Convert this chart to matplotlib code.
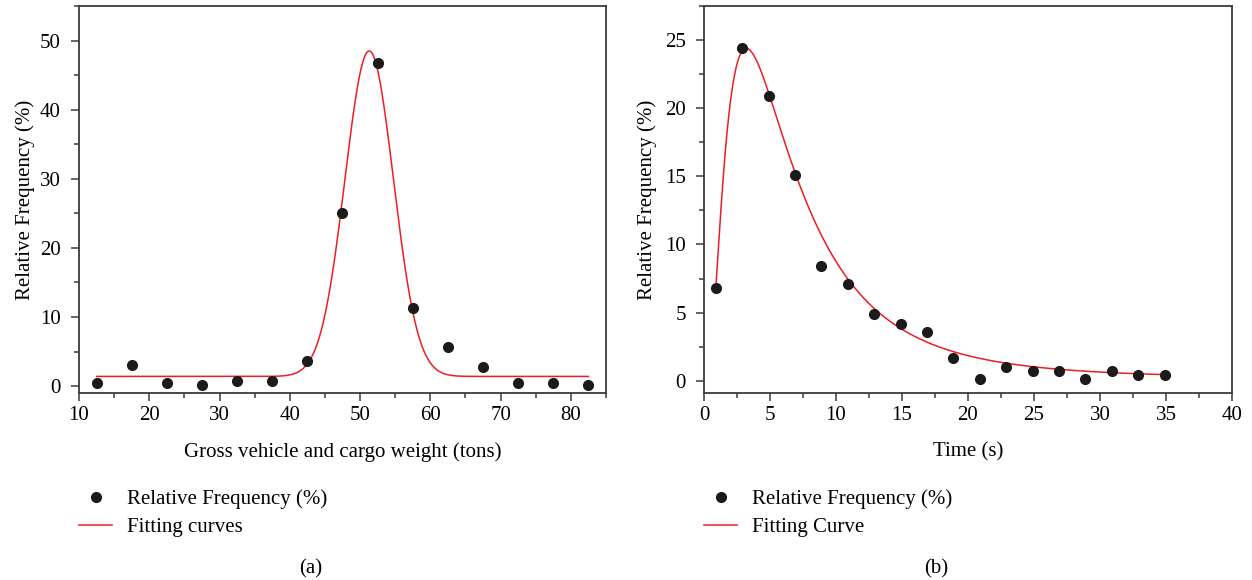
"""
Relative frequency of gross weight (a) and time (b), with fitted curves
"""
import numpy as np
import matplotlib
matplotlib.use("Agg")
import matplotlib.pyplot as plt
from matplotlib.ticker import MultipleLocator

plt.rcParams['font.family'] = ['Liberation Serif', 'DejaVu Serif']
plt.rcParams['font.size'] = 15

# (a) gross vehicle and cargo weight
weight = [12.5, 17.5, 22.5, 27.5, 32.5, 37.5, 42.5, 47.5, 52.5, 57.5,
          62.5, 67.5, 72.5, 77.5, 82.5]
weight_freq = [0.5, 3.0, 0.5, 0.2, 0.8, 0.8, 3.7, 25.0, 46.8, 11.3,
               5.6, 2.7, 0.5, 0.5, 0.2]
# gaussian fit parameters: y0, A, xc, sigma
gauss_fit = [1.4, 47.1, 51.3, 3.45]

# (b) time
time_s = [0.9, 2.9, 4.9, 6.9, 8.9, 10.9, 12.9, 14.9, 16.9, 18.9,
          20.9, 22.9, 24.9, 26.9, 28.9, 30.9, 32.9, 34.9]
time_freq = [6.8, 24.4, 20.9, 15.1, 8.4, 7.1, 4.9, 4.2, 3.6, 1.7,
             0.1, 1.0, 0.7, 0.7, 0.1, 0.7, 0.4, 0.4]
# log-normal style fit: y0, A, xc, w_left, w_right
lognorm_fit = [0.2, 24.2, 3.2, 0.79, 0.79]

dot_color = '#1c1a1b'
line_color = '#ee1c24'
spine_color = '#3a3a3a'


def gauss(x, y0, a, xc, s):
    return y0 + a * np.exp(-(x - xc) ** 2 / (2 * s ** 2))


def lognorm(x, y0, a, xc, wl, wr):
    w = np.where(x < xc, wl, wr)
    return y0 + a * np.exp(-np.log(x / xc) ** 2 / (2 * w ** 2))


def style_axes(ax):
    for sp in ax.spines.values():
        sp.set_color(spine_color)
        sp.set_linewidth(1.3)
    ax.tick_params(which='both', direction='out', top=False, right=False,
                   color=spine_color, width=1.1, labelsize=15)
    ax.tick_params(which='major', length=6)
    ax.tick_params(which='minor', length=3.5)
    ax.tick_params(axis='x', pad=3)
    ax.tick_params(axis='y', pad=7)


def add_legend(ax):
    ax.legend(loc='upper left', bbox_to_anchor=(0.0, -0.25), frameon=False,
              fontsize=15, handlelength=1.6, handletextpad=0.7,
              labelspacing=0.4, borderaxespad=0, borderpad=0)


fig = plt.figure(figsize=(12.52, 5.8), dpi=100)

# panel (a)
ax1 = fig.add_axes([0.0631, 0.3224, 0.4209, 0.6672])
xa = np.linspace(weight[0], weight[-1], 600)
ax1.plot(weight, weight_freq, 'o', color=dot_color, ms=7, zorder=3,
         label='Relative Frequency (%)')
ax1.plot(xa, gauss(xa, *gauss_fit), '-', color=line_color, lw=1.1,
         label='Fitting curves')
ax1.set_xlim(10, 85)
ax1.set_ylim(-1, 55)
ax1.xaxis.set_major_locator(MultipleLocator(10))
ax1.xaxis.set_minor_locator(MultipleLocator(5))
ax1.yaxis.set_major_locator(MultipleLocator(10))
ax1.yaxis.set_minor_locator(MultipleLocator(5))
ax1.set_xlabel('Gross vehicle and cargo weight (tons)', fontsize=15, labelpad=13)
ax1.set_ylabel('Relative Frequency (%)', fontsize=15, labelpad=4)
style_axes(ax1)
add_legend(ax1)
ax1.text(0.44, -0.455, '(a)', transform=ax1.transAxes, fontsize=15,
         ha='center', va='center')

# panel (b)
ax2 = fig.add_axes([0.5623, 0.3224, 0.4217, 0.6672])
xb = np.linspace(time_s[0], time_s[-1], 600)
ax2.plot(time_s, time_freq, 'o', color=dot_color, ms=7, zorder=3,
         label='Relative Frequency (%)')
ax2.plot(xb, lognorm(xb, *lognorm_fit), '-', color=line_color, lw=1.1,
         label='Fitting Curve')
ax2.set_xlim(0, 40)
ax2.set_ylim(-0.9, 27.5)
ax2.xaxis.set_major_locator(MultipleLocator(5))
ax2.xaxis.set_minor_locator(MultipleLocator(2.5))
ax2.yaxis.set_major_locator(MultipleLocator(5))
ax2.yaxis.set_minor_locator(MultipleLocator(2.5))
ax2.set_xlabel('Time (s)', fontsize=15, labelpad=13)
ax2.set_ylabel('Relative Frequency (%)', fontsize=15, labelpad=6)
style_axes(ax2)
add_legend(ax2)
ax2.text(0.44, -0.455, '(b)', transform=ax2.transAxes, fontsize=15,
         ha='center', va='center')

fig.savefig('out.png', dpi=100)
